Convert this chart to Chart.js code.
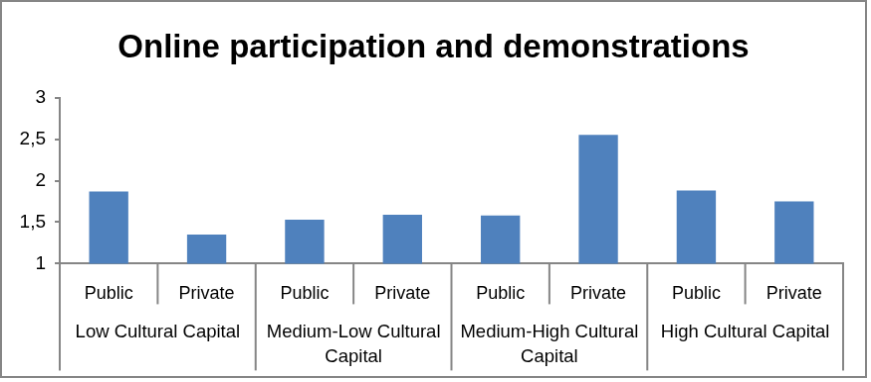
<!DOCTYPE html>
<html>
<head>
<meta charset="utf-8">
<script src="https://cdn.jsdelivr.net/npm/chart.js@4/dist/chart.umd.min.js"></script>
<style>
  body { margin: 0; background: #fff; }
  #chart { display: block; border: 2px solid #868686; }
</style>
</head>
<body>
<canvas id="chart" width="867" height="378"></canvas>
<script>
// --- Data ---
const schoolTypes = ['Public', 'Private', 'Public', 'Private', 'Public', 'Private', 'Public', 'Private'];
const capitalGroups = [
    ['Low Cultural Capital'],
    ['Medium-Low Cultural', 'Capital'],
    ['Medium-High Cultural', 'Capital'],
    ['High Cultural Capital']
];
const participation = [1.87, 1.35, 1.53, 1.59, 1.58, 2.55, 1.88, 1.75];
const yTicks = [1, 1.5, 2, 2.5, 3];

const AXIS_GREY = '#868686';
const FONT = '"Liberation Sans", Arial, sans-serif';

// Draws the two-level category axis: separators and the group labels underneath
const groupAxisPlugin = {
    id: 'groupAxis',
    afterDraw(chart) {
        const { ctx, chartArea } = chart;
        const xs = chart.scales.x;
        const n = schoolTypes.length;
        const base = chartArea.bottom;

        ctx.save();
        ctx.strokeStyle = AXIS_GREY;
        ctx.lineWidth = 2;
        for (let i = 0; i <= n; i++) {
            let px;
            if (i === 0) px = xs.left;
            else if (i === n) px = xs.right;
            else px = (xs.getPixelForValue(i - 1) + xs.getPixelForValue(i)) / 2;
            const len = i % 2 === 0 ? 108 : 41;
            ctx.beginPath();
            ctx.moveTo(px, base);
            ctx.lineTo(px, base + len);
            ctx.stroke();
        }

        ctx.fillStyle = '#000';
        ctx.font = '18.5px ' + FONT;
        ctx.textAlign = 'center';
        ctx.textBaseline = 'middle';
        capitalGroups.forEach((lines, g) => {
            const cx = (xs.getPixelForValue(g * 2) + xs.getPixelForValue(g * 2 + 1)) / 2;
            lines.forEach((line, k) => {
                ctx.fillText(line, cx, base + 70 + k * 25);
            });
        });
        ctx.restore();
    }
};

const ctx = document.getElementById('chart');
new Chart(ctx, {
    type: 'bar',
    data: {
        labels: schoolTypes,
        datasets: [{
            data: participation,
            backgroundColor: '#4F81BD',
            borderWidth: 0,
            barPercentage: 0.4,
            categoryPercentage: 1
        }]
    },
    options: {
        responsive: false,
        animation: false,
        layout: { padding: { left: 0, right: 0, bottom: 52 } },
        plugins: {
            legend: { display: false },
            tooltip: { enabled: false },
            title: {
                display: true,
                text: 'Online participation and demonstrations',
                color: '#000',
                font: { family: FONT, size: 33, weight: 'bold' },
                padding: { top: 27, bottom: 30 }
            }
        },
        scales: {
            x: {
                grid: { display: false, drawTicks: false },
                border: { color: AXIS_GREY, width: 2 },
                ticks: {
                    color: '#000',
                    font: { family: FONT, size: 18 },
                    padding: 20,
                    maxRotation: 0
                }
            },
            y: {
                min: 1,
                max: 3,
                afterBuildTicks: axis => { axis.ticks = yTicks.map(v => ({ value: v })); },
                afterFit: axis => { axis.width = 58; },
                grid: { drawOnChartArea: false, tickLength: 5, color: AXIS_GREY, lineWidth: 2 },
                border: { color: AXIS_GREY, width: 2 },
                ticks: {
                    color: '#000',
                    font: { family: FONT, size: 19 },
                    padding: 9,
                    callback: v => String(v).replace('.', ',')
                }
            },
            // empty right-hand axis, only reserves the right margin so the title stays centred
            yRight: {
                position: 'right',
                afterFit: axis => { axis.width = 22; },
                grid: { display: false },
                border: { display: false },
                ticks: { display: false }
            }
        }
    },
    plugins: [groupAxisPlugin]
});
</script>
</body>
</html>
